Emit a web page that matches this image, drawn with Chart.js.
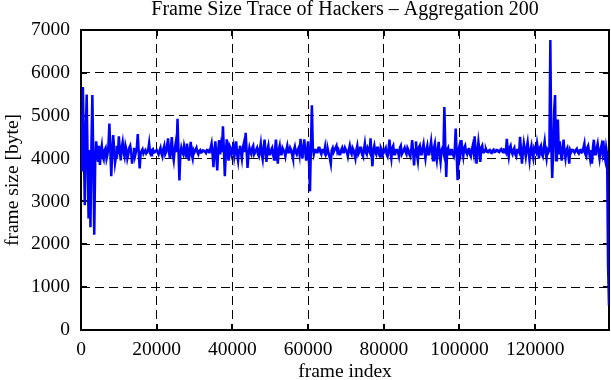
<!DOCTYPE html>
<html>
<head>
<meta charset="utf-8">
<script src="https://cdn.jsdelivr.net/npm/chart.js@4.4.1/dist/chart.umd.min.js"></script>
<style>
html,body{margin:0;padding:0;background:#fff;}
#wrap{width:611px;height:380px;}
</style>
</head>
<body>
<div id="wrap"><canvas id="c" width="611" height="380"></canvas></div>
<script>
const TITLE = 'Frame Size Trace of Hackers \u2013 Aggregation 200';
const X_LABEL = 'frame index';
const Y_LABEL = 'frame size [byte]';

// spacing (in frames) between the samples
const FRAME_STEP = 250;

// frame size [byte], one value per FRAME_STEP frames
const frameSize = [
  // 0 - 4750
  5030,3700, 5670,4300, 2910,4500, 5495,4000, 2600,4200, 2400,4300, 5480,4000, 2225,3900, 4400,4200, 3950,4300,
  // 5000 - 9750
  3850,4150, 4300,4050, 3980,4200, 4250,4000, 4100,4300, 4820,4200, 3590,4150, 4550,4250, 3900,4050, 4300,4100,
  // 10000 - 14750
  4520,4200, 3960,4250, 4380,4150, 4050,4300, 4200,4000, 4100,4250, 4300,4150, 3880,4100, 4250,4050, 4150,4250,
  // 15000 - 19750
  4570,4150, 3770,4100, 4180,4220, 4120,4170, 4200,4120, 4150,4200, 4360,4130, 4080,4200, 4220,4140, 4150,4180,
  // 20000 - 29750
  4200,4150, 4100,4180, 4250,4120, 4050,4220, 4300,4100, 4150,4300, 4470,4150, 4000,4250, 4500,4100, 3960,4200,
  4350,4150, 4930,4200, 3490,4100, 4250,4150, 4100,4300, 4200,4050, 4350,4150, 3950,4200, 4390,4100, 4000,4200,
  // 30000 - 39750
  4150,4200, 4250,4150, 4100,4180, 4200,4140, 4150,4190, 4180,4160, 4130,4200, 4200,4150, 4150,4250, 4350,4100,
  3800,4200, 4400,4050, 3725,4200, 4430,4100, 4300,4150, 4755,4200, 3590,4100, 4450,4200, 3950,4300, 4250,4100,
  // 40000 - 49750
  4200,4300, 4050,4200, 4400,4100, 3950,4200, 4300,4150, 4000,4250, 4350,4150, 4600,4200, 3780,4100, 4250,4150,
  4100,4250, 4300,4100, 4150,4200, 4250,4100, 4050,4200, 4350,4100, 3980,4250, 4440,4150, 3920,4200, 4300,4100,
  // 50000 - 59750
  4100,4200, 4250,4100, 3980,4200, 4440,4150, 3880,4200, 4300,4100, 4100,4250, 4200,4150, 4050,4200, 4300,4150,
  4150,4250, 4200,4100, 4000,4200, 4280,4150, 4100,4200, 4250,4100, 4460,4200, 4000,4250, 4450,4150, 3950,4200,
  // 60000 - 69750
  4400,3900, 3235,4300, 5245,4250, 4100,4200, 4200,4150, 4150,4250, 4250,4150, 4100,4200, 4200,4150, 4280,4100,
  4150,4200, 4100,4000, 3880,4200, 4250,4150, 4200,4250, 4300,4150, 4200,4100, 4100,4200, 4250,4150, 4150,4250,
  // 70000 - 79750
  4250,4150, 4050,4200, 4300,4150, 4100,4250, 4200,4100, 4000,4200, 4300,4100, 4150,4250, 4250,4100, 4050,4200,
  4350,4150, 4100,4250, 4200,4150, 4470,4100, 3820,4200, 4300,4150, 4100,4250, 4250,4100, 4050,4250, 4200,4100,
  // 80000 - 89750
  4150,4200, 4250,4100, 4050,4200, 4440,4150, 4000,4250, 4300,4100, 4100,4200, 4200,4150, 4050,4250, 4300,4100,
  4150,4200, 4250,4150, 4100,4250, 4200,4100, 4050,4200, 4430,4150, 3840,4200, 4400,4100, 3950,4250, 4300,4100,
  // 90000 - 99750
  4100,4250, 4350,4150, 4000,4200, 4300,4100, 4100,4250, 4400,4150, 3960,4250, 4350,4100, 3960,4200, 4390,4100,
  3920,4200, 4250,4150, 5205,4300, 3570,4200, 4250,4100, 4100,4200, 4200,4100, 4050,4200, 4700,4100, 3495,4200,
  // 100000 - 109750
  4300,4150, 4430,4200, 4050,4250, 4300,4150, 4100,4200, 4250,4100, 4050,4200, 4300,4150, 4520,4200, 3880,4150,
  4390,4200, 3920,4250, 4300,4150, 4150,4200, 4220,4160, 4150,4190, 4200,4140, 4130,4190, 4210,4150, 4160,4200,
  // 110000 - 119750
  4200,4160, 4150,4200, 4220,4170, 4150,4210, 4200,4150, 4460,4200, 4050,4250, 4300,4150, 4100,4200, 4250,4100,
  4050,4200, 4200,4150, 4510,4200, 3880,4150, 4350,4200, 4050,4250, 4380,4150, 3960,4200, 4300,4100, 4000,4250,
  // 120000 - 129750
  4200,4150, 4350,4200, 4000,4250, 4300,4100, 4050,4250, 4400,4150, 4000,4200, 4150,4200, 6765,4300, 3550,4200,
  5105,5480, 3960,4300, 4910,4100, 4400,4150, 3950,4200, 4440,4150, 4000,4200, 4250,4100, 3880,4200, 4150,4200,
  // 130000 - 139500
  4200,4160, 4150,4200, 4230,4150, 4120,4190, 4200,4140, 4150,4250, 4350,4100, 4050,4250, 4300,4150, 4000,4200,
  3880,4250, 4440,4100, 4100,4250, 4350,4150, 4000,4200, 4300,4150, 4420,4100, 3980,4250, 4100,1530, 570
];

const xTicks = [0, 20000, 40000, 60000, 80000, 100000, 120000];
const yTicks = [0, 1000, 2000, 3000, 4000, 5000, 6000, 7000];
const X_MAX = 139500;
const Y_MAX = 7000;

const FONT = "'Liberation Serif', 'Times New Roman', serif";
const FS = 19.5;

const points = frameSize.map((v, i) => ({ x: i * FRAME_STEP, y: v }));

const frameBox = {
  id: 'frameBox',
  beforeDatasetsDraw(chart) {
    const { ctx, chartArea: a, scales: { x, y } } = chart;
    ctx.save();
    ctx.strokeStyle = '#000';
    ctx.lineWidth = 2;
    ctx.setLineDash([]);
    ctx.strokeRect(a.left, a.top, a.right - a.left, a.bottom - a.top);
    const L = 6;
    ctx.beginPath();
    x.ticks.forEach(t => {
      const px = Math.round(x.getPixelForValue(t.value));
      ctx.moveTo(px, a.bottom); ctx.lineTo(px, a.bottom - L);
      ctx.moveTo(px, a.top); ctx.lineTo(px, a.top + L);
    });
    y.ticks.forEach(t => {
      const py = Math.round(y.getPixelForValue(t.value));
      ctx.moveTo(a.left, py); ctx.lineTo(a.left + L, py);
      ctx.moveTo(a.right, py); ctx.lineTo(a.right - L, py);
    });
    ctx.stroke();
    ctx.restore();
  }
};

new Chart(document.getElementById('c').getContext('2d'), {
  type: 'line',
  data: {
    datasets: [{
      data: points,
      borderColor: '#0000ff',
      borderWidth: 2.5,
      pointRadius: 0,
      tension: 0,
      fill: false
    }]
  },
  options: {
    responsive: false,
    animation: false,
    layout: { padding: { left: 0, right: 2, top: 0, bottom: 0 } },
    plugins: {
      legend: { display: false },
      tooltip: { enabled: false },
      title: {
        display: true,
        text: TITLE,
        fullSize: false,
        color: '#000',
        font: { family: FONT, size: 20, weight: 'normal', lineHeight: 1 },
        padding: { top: 0, bottom: 10 }
      }
    },
    scales: {
      x: {
        type: 'linear',
        min: 0,
        max: X_MAX,
        afterBuildTicks: s => { s.ticks = xTicks.map(v => ({ value: v })); },
        afterFit: s => { s.height = 50; },
        ticks: {
          color: '#000',
          font: { family: FONT, size: FS },
          padding: 8,
          maxRotation: 0,
          autoSkip: false,
          callback: v => String(v)
        },
        grid: { color: '#000', lineWidth: 1, drawTicks: false },
        border: { display: false, dash: [9, 5] },
        title: {
          display: true,
          text: X_LABEL,
          color: '#000',
          font: { family: FONT, size: FS, lineHeight: 0.8 },
          padding: { top: 0, bottom: 0 }
        }
      },
      y: {
        type: 'linear',
        min: 0,
        max: Y_MAX,
        afterBuildTicks: s => { s.ticks = yTicks.map(v => ({ value: v })); },
        afterFit: s => { s.width = 81; },
        ticks: {
          color: '#000',
          font: { family: FONT, size: FS },
          padding: 11,
          autoSkip: false,
          callback: v => String(v)
        },
        grid: { color: '#000', lineWidth: 1, drawTicks: false },
        border: { display: false, dash: [9, 5] },
        title: {
          display: true,
          text: Y_LABEL,
          color: '#000',
          font: { family: FONT, size: FS, lineHeight: 0.8 },
          padding: { top: 4.7, bottom: 0 }
        }
      }
    }
  },
  plugins: [frameBox]
});
</script>
</body>
</html>
